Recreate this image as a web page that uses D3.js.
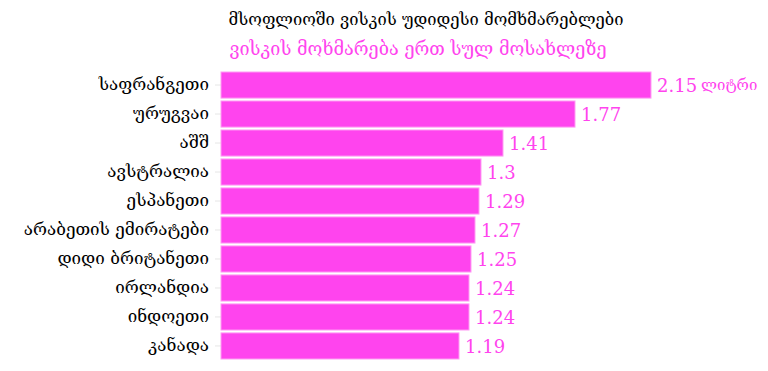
<!DOCTYPE html>
<html>
<head>
<meta charset="utf-8">
<script src="https://cdn.jsdelivr.net/npm/d3@7"></script>
<style>
  body { margin: 0; background: #fff; }
  text { font-family: "DejaVu Serif", serif; }
</style>
</head>
<body>
<div id="chart-area"></div>
<script>
var countries = ["საფრანგეთი", "ურუგვაი", "აშშ", "ავსტრალია", "ესპანეთი",
    "არაბეთის ემირატები", "დიდი ბრიტანეთი", "ირლანდია", "ინდოეთი", "კანადა"];
var litres = [2.15, 1.77, 1.41, 1.3, 1.29, 1.27, 1.25, 1.24, 1.24, 1.19];
var labels = ["2.15", "1.77", "1.41", "1.3", "1.29", "1.27", "1.25", "1.24", "1.24", "1.19"];

var width = 768;
var height = 371;
var pink = "#ff44ee";

var svg = d3.select("#chart-area")
    .append("svg")
        .attr("width", width)
        .attr("height", height);

var x = d3.scaleLinear().domain([0, 1]).range([221, 421]);
var y = d3.scaleBand().domain(countries).range([72, 359]).paddingInner(0.1).paddingOuter(0);

// title
svg.append("text")
    .attr("x", 426)
    .attr("y", 25)
    .attr("text-anchor", "middle")
    .attr("font-size", "16.5px")
    .style("fill", "#000")
    .text("მსოფლიოში ვისკის უდიდესი მომხმარებლები");

svg.append("text")
    .attr("x", 418)
    .attr("y", 55)
    .attr("text-anchor", "middle")
    .attr("font-size", "18px")
    .style("fill", pink)
    .text("ვისკის მოხმარება ერთ სულ მოსახლეზე");

var leftAxis = d3.axisLeft(y).tickSize(6).tickPadding(6);
var ax = svg.append("g")
    .attr("transform", "translate(" + x(0) + ",0)")
    .call(leftAxis);
ax.select(".domain").remove();
ax.selectAll(".tick line").attr("stroke", "#e6e6e6");
ax.selectAll(".tick text")
    .attr("font-size", "17px")
    .attr("font-family", "DejaVu Serif")
    .style("fill", "#000");

svg.selectAll("rect.bar")
    .data(litres)
    .enter().append("rect")
        .attr("class", "bar")
        .attr("x", x(0))
        .attr("y", (d, i) => y(countries[i]))
        .attr("width", (d) => x(d) - x(0))
        .attr("height", y.bandwidth())
        .attr("fill", pink)
        .attr("stroke", "#ff9cf3")
        .attr("stroke-width", 1);

svg.selectAll("text.val")
    .data(litres)
    .enter().append("text")
        .attr("class", "val")
        .attr("x", (d) => x(d) + 6)
        .attr("y", (d, i) => y(countries[i]) + y.bandwidth() / 2 + 7)
        .attr("font-size", "18px")
        .style("fill", pink)
        .text((d, i) => labels[i]);

svg.append("text")
    .attr("x", x(litres[0]) + 50)
    .attr("y", y(countries[0]) + y.bandwidth() / 2 + 5)
    .attr("font-size", "15px")
    .style("fill", pink)
    .text("ლიტრი");
</script>
</body>
</html>
